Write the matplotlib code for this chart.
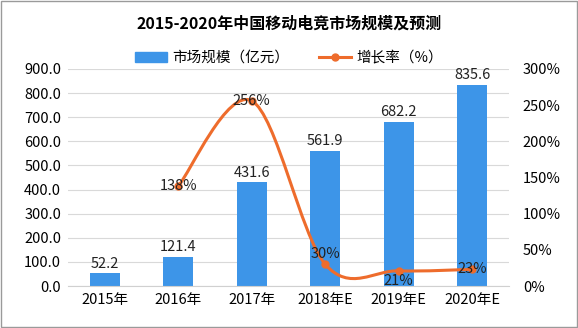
import numpy as np
import matplotlib.pyplot as plt
from matplotlib.path import Path
from matplotlib.patches import PathPatch
from matplotlib.lines import Line2D
from matplotlib.patches import Patch

plt.rcParams['font.family'] = ['Noto Sans CJK SC', 'DejaVu Sans']

years = ['2015年', '2016年', '2017年', '2018年E', '2019年E', '2020年E']
market = [52.2, 121.4, 431.6, 561.9, 682.2, 835.6]
growth = [None, 138, 256, 30, 21, 23]
growth_lbl = ['', '138%', '256%', '30%', '21%', '23%']

bar_c = '#3d95e8'
line_c = '#ee6c2c'
fs = 10.5

fig = plt.figure(figsize=(5.78, 3.28), dpi=100)
ax = fig.add_axes([68 / 578, 1 - 286 / 328, (509 - 68) / 578, (286 - 69) / 328])
ax2 = ax.twinx()

x = np.arange(len(years))
ax.bar(x, market, width=0.41, color=bar_c, zorder=2)
for i, v in enumerate(market):
    ax.text(i, v + 10, f'{v:.1f}', ha='center', va='bottom', fontsize=fs, color='#222222')

ax.set_ylim(0, 900)
ax.set_yticks(np.arange(0, 901, 100))
ax.set_yticklabels([f'{v:.1f}' for v in np.arange(0, 901, 100)], fontsize=fs)
ax.set_xlim(-0.5, len(years) - 0.5)
ax.set_xticks(x)
ax.set_xticklabels(years, fontsize=fs)
ax.grid(axis='y', color='#d9d9d9', lw=0.8, zorder=0)
ax.set_axisbelow(True)
for s in ['top', 'left', 'right']:
    ax.spines[s].set_visible(False)
    ax2.spines[s].set_visible(False)
ax.spines['bottom'].set_color('#d0d0d0')
ax2.spines['bottom'].set_visible(False)
ax.tick_params(length=0, pad=5)

ax2.set_ylim(0, 300)
ax2.set_yticks(np.arange(0, 301, 50))
ax2.set_yticklabels([f'{v}%' for v in range(0, 301, 50)], fontsize=fs)
ax2.tick_params(length=0, pad=10)

# smoothed line (Catmull-Rom style bezier through the data points)
px = [i for i, g in enumerate(growth) if g is not None]
py = [g for g in growth if g is not None]
pts = list(zip(px, py))
verts = [pts[0]]
codes = [Path.MOVETO]
n = len(pts)
for i in range(n - 1):
    p0 = pts[i - 1] if i > 0 else pts[i]
    p1 = pts[i]
    p2 = pts[i + 1]
    p3 = pts[i + 2] if i + 2 < n else pts[i + 1]
    c1 = (p1[0] + (p2[0] - p0[0]) / 6, p1[1] + (p2[1] - p0[1]) / 6)
    c2 = (p2[0] - (p3[0] - p1[0]) / 6, p2[1] - (p3[1] - p1[1]) / 6)
    verts += [c1, c2, p2]
    codes += [Path.CURVE4] * 3
ax2.add_patch(PathPatch(Path(verts, codes), facecolor='none', edgecolor=line_c, lw=2.2, zorder=3))
ax2.plot(px, py, 'o', color=line_c, ms=5, zorder=4)

offs = {1: 0, 2: 0, 3: 14, 4: -14, 5: 0}
for i in px:
    ax2.text(i, growth[i] + offs[i], growth_lbl[i], ha='center', va='center', fontsize=fs, color='#222222', zorder=5)

fig.text(0.5, 1 - 24 / 328, '2015-2020年中国移动电竞市场规模及预测', ha='center', va='center',
         fontsize=11.5, fontweight='bold')

handles = [Patch(color=bar_c, label='市场规模（亿元）'),
           Line2D([], [], color=line_c, lw=2.2, marker='o', ms=5, label='增长率（%）')]
fig.legend(handles=handles, loc='center', bbox_to_anchor=(0.5, 1 - 58 / 328), ncol=2, frameon=False,
           fontsize=fs, handlelength=2.2, columnspacing=2.0, handletextpad=0.4)

fig.patches.append(plt.Rectangle((0.002, 0.003), 0.996, 0.994, transform=fig.transFigure,
                                 fill=False, edgecolor='#9a9a9a', lw=1))

fig.savefig('out.png', dpi=100)
